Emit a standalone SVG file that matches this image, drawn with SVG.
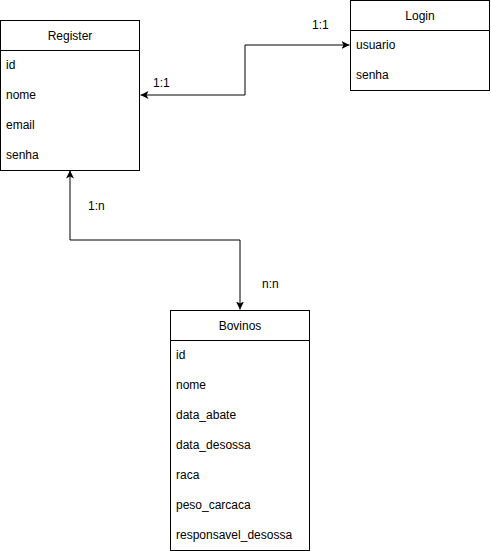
<svg xmlns="http://www.w3.org/2000/svg" width="491" height="551" viewBox="0 0 491 551">
<style>
.box{fill:#fff;stroke:#000;stroke-width:1}
.t{font-family:"Liberation Sans",Arial,sans-serif;font-size:12px;fill:#000}
.c{text-anchor:middle}
.e{fill:none;stroke:#000;stroke-width:1}
</style>
<defs>
<marker id="arr" viewBox="0 0 10 10" refX="10" refY="5" markerWidth="8" markerHeight="8" markerUnits="userSpaceOnUse" orient="auto">
<path d="M0,0 L10,5 L0,10 L2.5,5 Z" fill="#000"/>
</marker>
</defs>
<rect width="491" height="551" fill="#fff"/>
<g id="connectors">
<path class="e" d="M245,95 L140.5,95" marker-end="url(#arr)"/>
<path class="e" d="M245,95 L245,45 L349.5,45" marker-end="url(#arr)"/>
<path class="e" d="M155,240 L70,240 L70,170.5" marker-end="url(#arr)"/>
<path class="e" d="M155,240 L240,240 L240,309.5" marker-end="url(#arr)"/>
<text class="t" x="153" y="87">1:1</text>
<text class="t" x="312" y="29">1:1</text>
<text class="t" x="88" y="210">1:n</text>
<text class="t" x="262" y="288">n:n</text>
</g>
<g id="register">
<rect class="box" x="0.5" y="20.5" width="139" height="150"/>
<line class="e" x1="0.5" y1="50.5" x2="139.5" y2="50.5"/>
<text class="t c" x="70" y="40">Register</text>
<text class="t" x="6" y="69">id</text>
<text class="t" x="6" y="99">nome</text>
<text class="t" x="6" y="129">email</text>
<text class="t" x="6" y="159">senha</text>
</g>
<g id="login">
<rect class="box" x="350.5" y="0.5" width="139" height="90"/>
<line class="e" x1="350.5" y1="30.5" x2="489.5" y2="30.5"/>
<text class="t c" x="420" y="20">Login</text>
<text class="t" x="356" y="49">usuario</text>
<text class="t" x="356" y="79">senha</text>
</g>
<g id="bovinos">
<rect class="box" x="170.5" y="310.5" width="139" height="240"/>
<line class="e" x1="170.5" y1="340.5" x2="309.5" y2="340.5"/>
<text class="t c" x="240" y="330">Bovinos</text>
<text class="t" x="176" y="359">id</text>
<text class="t" x="176" y="389">nome</text>
<text class="t" x="176" y="419">data_abate</text>
<text class="t" x="176" y="449">data_desossa</text>
<text class="t" x="176" y="479">raca</text>
<text class="t" x="176" y="509">peso_carcaca</text>
<text class="t" x="176" y="539">responsavel_desossa</text>
</g>
</svg>
